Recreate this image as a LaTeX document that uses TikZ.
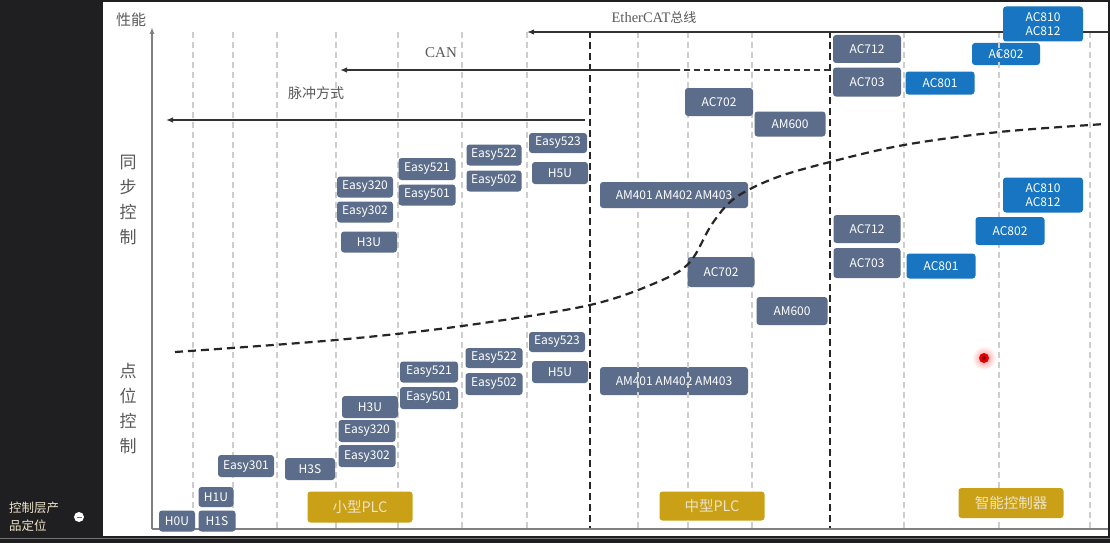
\documentclass[tikz,border=0pt]{standalone}
\usepackage{fontspec}
\setmainfont{Liberation Serif}
\newfontfamily\cjk{Noto Sans CJK SC}
\usetikzlibrary{arrows.meta}
\definecolor{slate}{HTML}{5B6D8A}
\definecolor{bluebox}{HTML}{1775C2}
\definecolor{goldbox}{HTML}{C9A016}
\definecolor{darkbg}{HTML}{1F1F21}
\definecolor{gridc}{HTML}{CDCDCD}
\definecolor{sidetext}{HTML}{EDE3C8}
\begin{document}
\begin{tikzpicture}[x=1pt,y=-1pt,
  box/.style={rounded corners=3pt, fill=slate, text=white, inner sep=0pt, align=center,
    font=\cjk\fontsize{12}{13.5}\selectfont},
  bbox/.style={box, fill=bluebox},
  gbox/.style={box, fill=goldbox, text=sidetext, font=\cjk\fontsize{14.5}{16}\selectfont},
  gridln/.style={draw=gridc, line width=1.3pt, dash pattern=on 6pt off 4pt},
  divider/.style={draw=black!85, line width=2pt, dash pattern=on 7pt off 4pt},
  conn/.style={draw=black!80, line width=1.4pt, -{Latex[length=7pt,width=5.5pt]}},
  axisln/.style={draw=black!50, line width=1.8pt},
  lbl/.style={text=black!65, inner sep=0pt},
  ylbl/.style={text=black!65, inner sep=0pt, align=center, font=\cjk\fontsize{17}{25}\selectfont}
]
\useasboundingbox (0,0) rectangle (1110,543);
% background
\fill[darkbg] (0,0) rectangle (1110,543);
\fill[white] (103,2) rectangle (1108,536);
\draw[black!55, line width=1pt] (0,538.5) -- (1110,538.5);

% side panel
\node[anchor=west, inner sep=0pt, text=sidetext, font=\cjk\fontsize{12.5}{14}\selectfont] (side1) at (9,508) {控制层产};
\node[anchor=west, inner sep=0pt, text=sidetext, font=\cjk\fontsize{12.5}{14}\selectfont] (side2) at (9,526) {品定位};
\node[circle, fill=white, minimum size=10pt, inner sep=0pt] (minus) at (79,517) {};
\draw[slate, line width=1pt] ([xshift=-2.5pt]minus.center) -- ([xshift=2.5pt]minus.center);

% grid lines
\foreach \gx in {193,233,277,336,398,462,527,638,688,752,904,999,1090}
  \draw[gridln] (\gx,32) -- (\gx,529);
% dividers
\draw[divider] (590,31) -- (590,529);
\draw[divider] (830,31) -- (830,529);

% axes
\coordinate (origin) at (152,529);
\coordinate (ytop) at (152,27);
\coordinate (xend) at (1108,529);
\draw[axisln, -{Latex[length=7pt,width=5pt]}] (origin) -- (ytop);
\draw[axisln] (origin) -- (xend);
\node[lbl, font=\cjk\fontsize{15}{16}\selectfont] (perf) at (131,20) {性能};
\node[ylbl] (sync) at (128,200) {同\\步\\控\\制};
\node[ylbl] (point) at (128,409) {点\\位\\控\\制};

% bus arrows
\coordinate (ecR) at (1108,32);
\coordinate (ecL) at (527,32);
\draw[conn] (ecR) -- (ecL);
\node[lbl, font=\fontsize{14.5}{16}\selectfont] (ecat) at (654,18) {EtherCAT{\cjk\fontsize{13}{16}\selectfont 总线}};
\coordinate (canR) at (830,70);
\coordinate (canM) at (680,70);
\coordinate (canL) at (340,70);
\draw[draw=black!80, line width=1.4pt, dash pattern=on 6pt off 4pt] (canR) -- (canM);
\draw[conn] (canM) -- (canL);
\node[lbl, font=\fontsize{15}{16}\selectfont] (can) at (441,53) {CAN};
\coordinate (pulR) at (585,120);
\coordinate (pulL) at (166,120);
\draw[conn] (pulR) -- (pulL);
\node[lbl, font=\cjk\fontsize{14}{16}\selectfont] (pulse) at (316,93) {脉冲方式};

% upper band boxes
\node[box, minimum width=56pt, minimum height=21pt] (u320) at (365,187) {Easy320};
\node[box, minimum width=56pt, minimum height=21pt] (u302) at (365,212) {Easy302};
\node[box, minimum width=56pt, minimum height=21pt] (uH3U) at (369,242) {H3U};
\node[box, minimum width=57pt, minimum height=22pt] (u521) at (427,169) {Easy521};
\node[box, minimum width=57pt, minimum height=21pt] (u501) at (427,195) {Easy501};
\node[box, minimum width=55pt, minimum height=21pt] (u522) at (494,155) {Easy522};
\node[box, minimum width=55pt, minimum height=21pt] (u502) at (494,181) {Easy502};
\node[box, minimum width=58pt, minimum height=20pt] (u523) at (558,143) {Easy523};
\node[box, minimum width=56pt, minimum height=22pt] (uH5U) at (560,173) {H5U};
\node[box, minimum width=148pt, minimum height=26pt] (uAM4) at (674,195) {AM401 AM402 AM403};
\node[box, minimum width=68pt, minimum height=28pt] (uAC702) at (719,102) {AC702};
\node[box, minimum width=71pt, minimum height=25pt] (uAM600) at (790,124) {AM600};
\node[box, minimum width=68pt, minimum height=28pt] (uAC712) at (867,49) {AC712};
\node[box, minimum width=68pt, minimum height=29pt] (uAC703) at (867,82) {AC703};
\node[bbox, minimum width=69pt, minimum height=23pt] (uAC801) at (940,83) {AC801};
\node[bbox, minimum width=68pt, minimum height=22pt] (uAC802) at (1006,54) {AC802};
\node[bbox, minimum width=80pt, minimum height=35pt] (uAC810) at (1043,24) {AC810\\AC812};

% lower band boxes
\node[box, minimum width=36pt, minimum height=21pt] (lH0U) at (177,521) {H0U};
\node[box, minimum width=37pt, minimum height=21pt] (lH1S) at (217,521) {H1S};
\node[box, minimum width=35pt, minimum height=20pt] (lH1U) at (216,497) {H1U};
\node[box, minimum width=56pt, minimum height=22pt] (l301) at (246,466) {Easy301};
\node[box, minimum width=50pt, minimum height=22pt] (lH3S) at (310,469) {H3S};
\node[box, minimum width=57pt, minimum height=22pt] (l302) at (367,456) {Easy302};
\node[box, minimum width=57pt, minimum height=22pt] (l320) at (367,431) {Easy320};
\node[box, minimum width=56pt, minimum height=22pt] (lH3U) at (370,407) {H3U};
\node[box, minimum width=58pt, minimum height=21pt] (l521) at (429,372) {Easy521};
\node[box, minimum width=58pt, minimum height=22pt] (l501) at (429,398) {Easy501};
\node[box, minimum width=57pt, minimum height=20pt] (l522) at (494,358) {Easy522};
\node[box, minimum width=57pt, minimum height=22pt] (l502) at (494,384) {Easy502};
\node[box, minimum width=56pt, minimum height=20pt] (l523) at (557,342) {Easy523};
\node[box, minimum width=56pt, minimum height=22pt] (lH5U) at (560,372) {H5U};
\node[box, minimum width=148pt, minimum height=28pt] (lAM4) at (674,381) {AM401 AM402 AM403};
\node[box, minimum width=67pt, minimum height=30pt] (lAC702) at (721,272) {AC702};
\node[box, minimum width=71pt, minimum height=28pt] (lAM600) at (792,311) {AM600};
\node[box, minimum width=67pt, minimum height=28pt] (lAC712) at (867,229) {AC712};
\node[box, minimum width=67pt, minimum height=30pt] (lAC703) at (867,263) {AC703};
\node[bbox, minimum width=69pt, minimum height=25pt] (lAC801) at (941,266) {AC801};
\node[bbox, minimum width=69pt, minimum height=28pt] (lAC802) at (1010,231) {AC802};
\node[bbox, minimum width=80pt, minimum height=35pt] (lAC810) at (1043,195) {AC810\\AC812};

% category labels
\node[gbox, minimum width=105pt, minimum height=31pt] (small) at (360,507) {小型PLC};
\node[gbox, minimum width=105pt, minimum height=29pt] (mid) at (712,506) {中型PLC};
\node[gbox, minimum width=105pt, minimum height=30pt] (smart) at (1011,503) {智能控制器};

% grid lines seen over some boxes
\begin{scope}
  \clip (lAM4.south west) rectangle (lAM4.north east);
  \foreach \gx in {638,688} \draw[gridln] (\gx,32) -- (\gx,529);
\end{scope}
\begin{scope}
  \clip (uAC802.south west) rectangle (uAC802.north east);
  \draw[gridln] (999,32) -- (999,529);
\end{scope}

% boundary curve
\draw[black!85, line width=2.2pt, dash pattern=on 8pt off 5pt]
  plot[smooth, tension=0.55] coordinates {(175,352) (336,340) (462,326) (590,305) (660,281) (690,262) (712,224) (735,198) (775,178) (830,162) (904,145) (999,132) (1105,124)};

% pointer dot
\shade[inner color=red!45, outer color=white] (984,358) circle (12pt);
\fill[red!90!black] (984,358) circle (5pt);
\fill[red!55!black] (984,358) circle (2pt);
\end{tikzpicture}
\end{document}
